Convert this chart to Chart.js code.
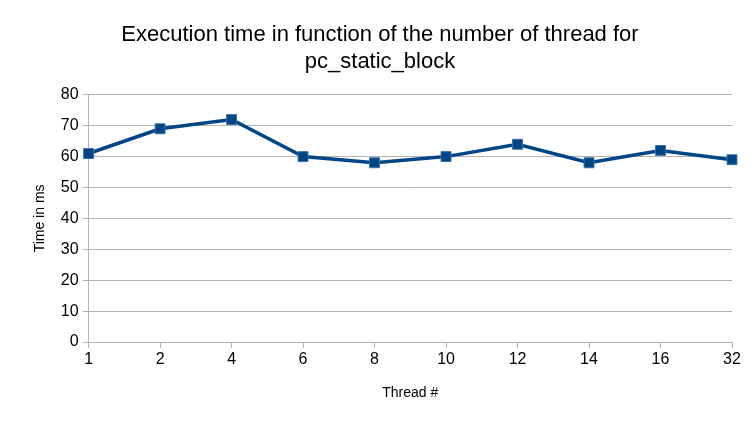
<!DOCTYPE html>
<html><head><meta charset="utf-8">
<script src="https://cdn.jsdelivr.net/npm/chart.js@4/dist/chart.umd.min.js"></script>
<style>html,body{margin:0;padding:0;background:#fff}#w{width:756px;height:426px}</style>
</head><body><div id="w"><canvas id="c"></canvas></div>
<script>
const categories=["1","2","4","6","8","10","12","14","16","32"];
const times=[61,69,72,60,58,60,64,58,62,59];
const yTicks=[0,10,20,30,40,50,60,70,80];
Chart.defaults.font.family="'Liberation Sans', Arial, sans-serif";
Chart.defaults.color="#000";
new Chart(document.getElementById('c'),{
type:'line',
data:{labels:categories,datasets:[{data:times,borderColor:'#004586',backgroundColor:'#004586',borderWidth:3.5,pointStyle:'rect',pointRadius:7,pointBorderColor:'#3a6fa8',pointBorderWidth:1,tension:0}]},
options:{responsive:true,maintainAspectRatio:false,animation:false,
layout:{padding:{left:28,right:24,top:14,bottom:20}},
plugins:{legend:{display:false},tooltip:{enabled:false},
title:{display:true,text:['Execution time in function of the number of thread for','pc_static_block'],font:{size:22,weight:'normal'},padding:{top:8,bottom:20},lineHeight:1.1}},
scales:{
x:{offset:false,grid:{display:true,drawOnChartArea:false,tickLength:6,color:'#b3b3b3'},border:{color:'#b3b3b3'},ticks:{font:{size:16},padding:2},
title:{display:true,text:'Thread #',font:{size:14},padding:{top:14}}},
y:{min:0,max:80,afterBuildTicks:a=>{a.ticks=yTicks.map(v=>({value:v}))},grid:{color:'#b3b3b3',tickLength:6},border:{color:'#b3b3b3'},ticks:{font:{size:16},padding:4},
title:{display:true,text:'Time in ms',font:{size:14},padding:{bottom:8}}}
}}});
</script></body></html>
